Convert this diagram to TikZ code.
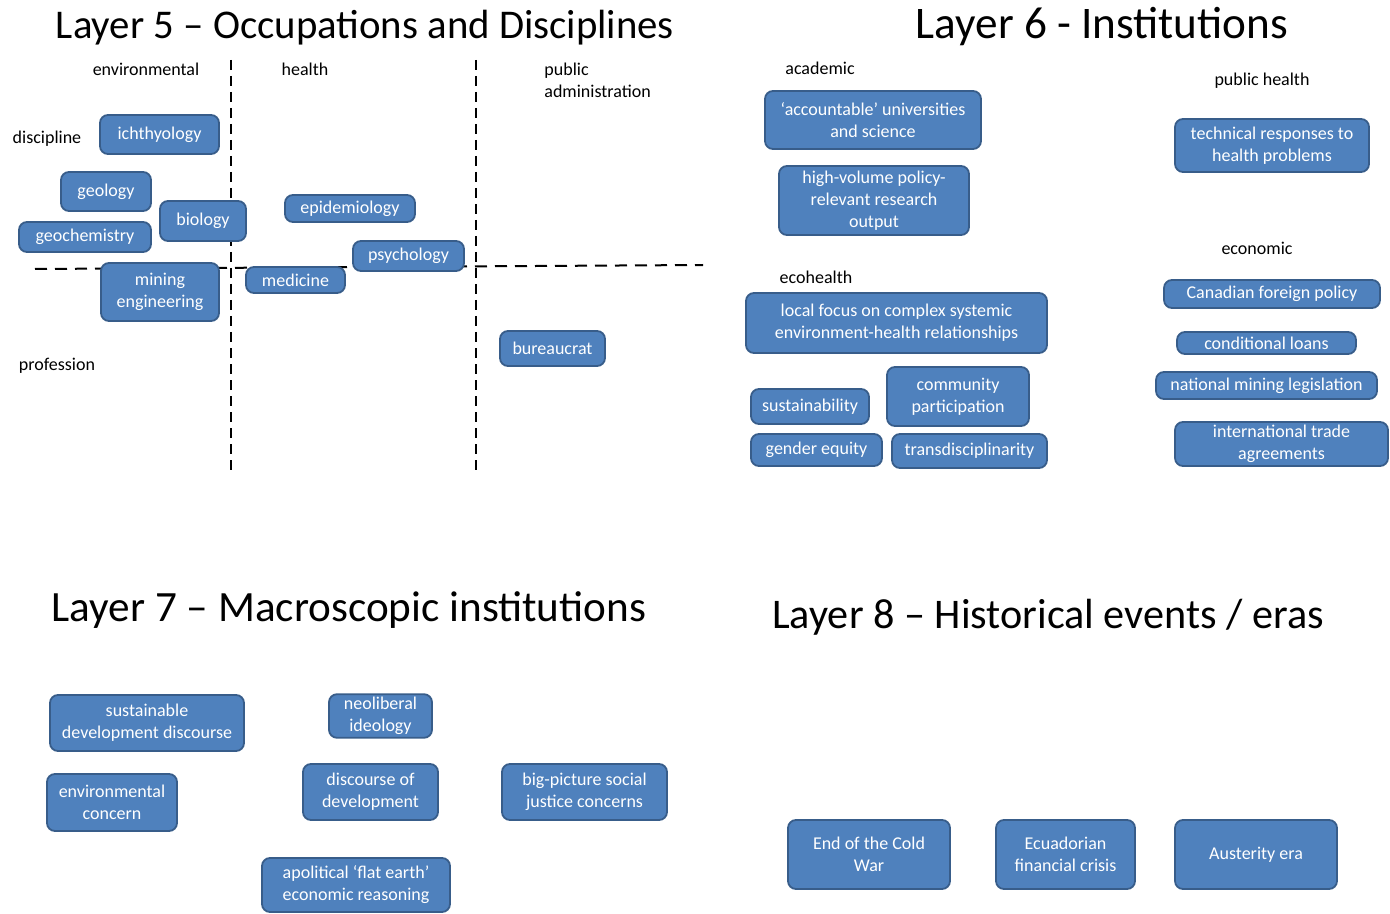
\documentclass[tikz,border=0pt]{standalone}
\usepackage{fontspec}
\setmainfont{Carlito}
\definecolor{boxfill}{HTML}{4F81BD}
\definecolor{boxline}{HTML}{385D8A}
\tikzset{
  box/.style={draw=boxline, fill=boxfill, line width=0.9pt, rounded corners=4pt,
    text=white, align=center, inner sep=1.5pt, font=\fontsize{9}{11}\selectfont},
  lab/.style={text=black, font=\fontsize{9}{11}\selectfont, inner sep=0pt},
  ttl/.style={text=black, inner sep=0pt, anchor=base},
  vdash/.style={draw=black, line width=1pt, dash pattern=on 5pt off 3pt},
  hdash/.style={draw=black, line width=1pt, dash pattern=on 6pt off 4pt}
}
\newcommand{\bx}[6]{\node[box, minimum width=#4*0.5pt, minimum height=#5*0.5pt] (#1) at (#2,#3) {#6};}
\begin{document}
\begin{tikzpicture}[x=0.5pt,y=-0.5pt]
\useasboundingbox (0,0) rectangle (1390,914);
% ---------- Layer 5 ----------
\node[ttl, font=\fontsize{20.4}{24}\selectfont] (t5) at (365,39) {Layer 5 -- Occupations and Disciplines};
\node[lab] (lenv) at (146,69) {environmental};
\node[lab] (lhealth) at (305,69) {health};
\node[lab, align=left, anchor=west] (lpub) at (544,80) {public\\administration};
\node[lab] (ldisc) at (47,139) {discipline};
\node[lab] (lprof) at (57,366) {profession};
\coordinate (v1t) at (231,60); \coordinate (v1b) at (231,470);
\coordinate (v2t) at (476,60); \coordinate (v2b) at (476,470);
\coordinate (hl) at (35,269); \coordinate (hr) at (703,265);
\draw[vdash] (v1t) -- (v1b);
\draw[vdash] (v2t) -- (v2b);
\draw[hdash] (hl) -- (hr);
\bx{ich}{159.5}{134.5}{119}{39}{ichthyology}
\bx{geol}{106}{191.5}{90}{39}{geology}
\bx{bio}{203}{221}{86}{40}{biology}
\bx{geoch}{85}{237}{132}{30}{geochemistry}
\bx{mining}{160}{292}{118}{58}{mining\\engineering}
\bx{epi}{350}{208.5}{130}{27}{epidemiology}
\bx{psy}{408.5}{256}{111}{30}{psychology}
\bx{med}{295.5}{280}{99}{26}{medicine}
\bx{bur}{552.5}{348.5}{105}{35}{bureaucrat}
% ---------- Layer 6 ----------
\node[ttl, font=\fontsize{22.6}{26}\selectfont] (t6) at (1102,39) {Layer 6 - Institutions};
\node[lab] (lacad) at (820,68) {academic};
\node[lab] (lph) at (1262,81) {public health};
\node[lab] (leco) at (816,277) {ecohealth};
\node[lab] (lecon) at (1257,248) {economic};
\bx{acc}{873}{120}{216}{58}{`accountable' universities\\and science}
\bx{hv}{874}{200.5}{190}{69}{high-volume policy-\\relevant research\\output}
\bx{tech}{1272}{145.5}{194}{53}{technical responses to\\health problems}
\bx{local}{896.5}{323}{301}{60}{local focus on complex systemic\\environment-health relationships}
\bx{sust}{810}{406.5}{118}{35}{sustainability}
\bx{comm}{958}{396.5}{142}{59}{community\\participation}
\bx{gender}{816.5}{450}{131}{32}{gender equity}
\bx{trans}{969.5}{451}{155}{34}{transdisciplinarity}
\bx{cfp}{1272}{294}{216}{28}{Canadian foreign policy}
\bx{cond}{1266.5}{343}{179}{22}{conditional loans}
\bx{nml}{1266.5}{385.5}{221}{27}{national mining legislation}
\bx{ita}{1281.5}{444}{213}{44}{international trade\\agreements}
% ---------- Layer 7 ----------
\node[ttl, font=\fontsize{21.6}{26}\selectfont] (t7) at (349,621) {Layer 7 -- Macroscopic institutions};
\bx{sdd}{147}{723}{194}{56}{sustainable\\development discourse}
\bx{neo}{380.5}{716}{103}{42}{neoliberal\\ideology}
\bx{envc}{112}{802.5}{130}{57}{environmental\\concern}
\bx{dod}{370.5}{792}{135}{56}{discourse of\\development}
\bx{bpj}{584.5}{792}{165}{56}{big-picture social\\justice concerns}
\bx{apol}{356}{885}{188}{54}{apolitical `flat earth'\\economic reasoning}
% ---------- Layer 8 ----------
\node[ttl, font=\fontsize{21.1}{25}\selectfont] (t8) at (1048,628) {Layer 8 -- Historical events / eras};
\bx{cold}{869}{854.5}{162}{69}{End of the Cold\\War}
\bx{ecu}{1065.5}{854.5}{139}{69}{Ecuadorian\\financial crisis}
\bx{aus}{1256}{854.5}{162}{69}{Austerity era}
\end{tikzpicture}
\end{document}
